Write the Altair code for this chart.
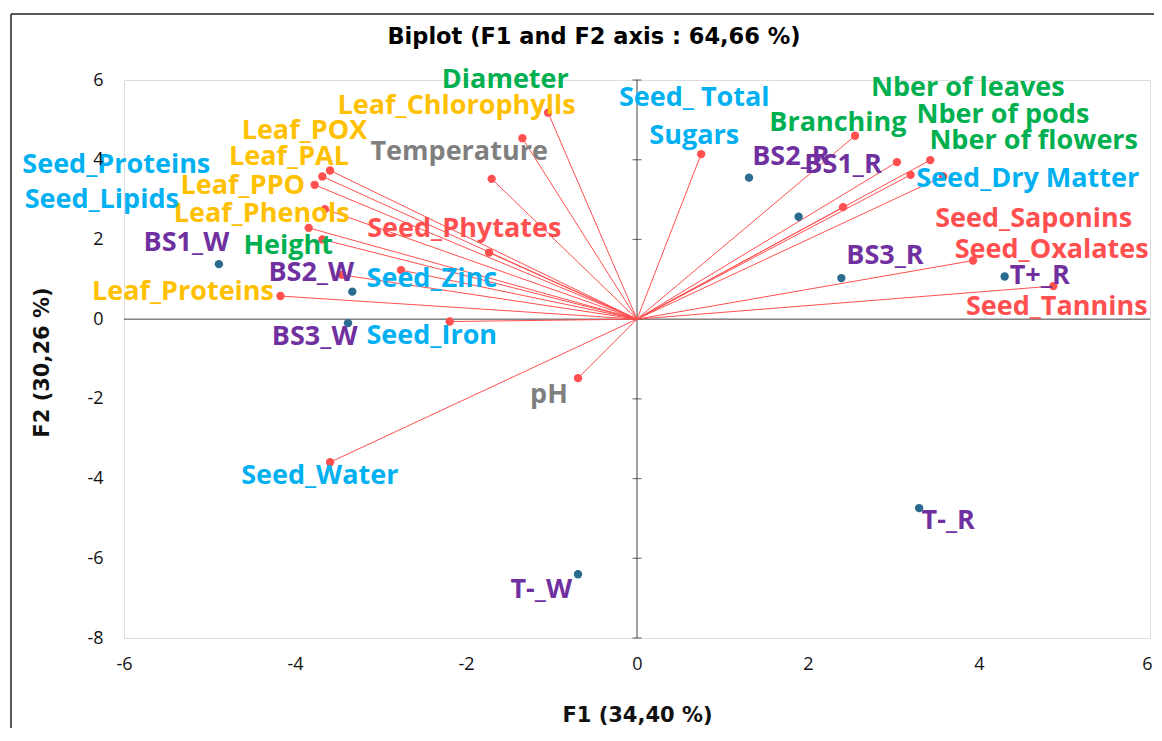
import altair as alt
import pandas as pd

# ---------------- data ----------------
var_names = [
    "Leaf_Chlorophylls", "Diameter", "Temperature", "Leaf_POX", "Leaf_PAL",
    "Leaf_PPO", "Leaf_Phenols", "Seed_Proteins", "Seed_Lipids", "Seed_Phytates",
    "Seed_Zinc", "Height", "Leaf_Proteins", "Seed_Iron", "pH", "Seed_Water",
    "Seed_ Total\nSugars", "Branching", "Nber of leaves", "Nber of pods",
    "Nber of flowers", "Seed_Dry Matter", "Seed_Saponins", "Seed_Oxalates",
    "Seed_Tannins",
]
var_f1 = [-1.04, -1.34, -1.70, -3.59, -3.68, -3.77, -3.65, -3.84, -3.68, -1.73,
          -2.76, -3.45, -4.17, -2.19, -0.69, -3.59,
          0.75, 2.55, 3.04, 3.43, 3.20, 3.58, 2.41, 3.93, 4.87]
var_f2 = [5.18, 4.54, 3.52, 3.73, 3.58, 3.37, 2.76, 2.29, 2.00, 1.67,
          1.23, 1.11, 0.58, -0.06, -1.48, -3.59,
          4.14, 4.60, 3.94, 3.99, 3.62, 3.58, 2.81, 1.47, 0.83]
var_group = ["leaf", "plant", "env", "leaf", "leaf", "leaf", "leaf", "seed", "seed", "anti",
             "seed", "plant", "leaf", "seed", "env", "seed",
             "seed", "plant", "plant", "plant", "plant", "seed", "anti", "anti", "anti"]
var_label_f1 = [-2.11, -1.54, -2.08, -3.89, -4.07, -4.61, -4.39, -6.09, -6.26, -2.02,
                -2.40, -4.08, -5.31, -2.40, -1.03, -3.71,
                0.67, 2.35, 3.87, 4.28, 4.64, 4.57, 4.64, 4.85, 4.91]
var_label_f2 = [5.35, 6.00, 4.19, 4.72, 4.07, 3.34, 2.64, 3.87, 2.99, 2.26,
                1.01, 1.84, 0.68, -0.42, -1.90, -3.93,
                5.55, 4.92, 5.80, 5.12, 4.47, 3.52, 2.51, 1.74, 0.31]

obs_names = ["BS1_W", "BS2_W", "BS3_W", "T-_W", "BS2_R", "BS1_R", "BS3_R", "T+_R", "T-_R"]
obs_f1 = [-4.89, -3.33, -3.38, -0.69, 1.31, 1.89, 2.39, 4.30, 3.30]
obs_f2 = [1.38, 0.69, -0.10, -6.40, 3.55, 2.57, 1.03, 1.07, -4.74]
obs_label_f1 = [-5.27, -3.81, -3.77, -1.12, 1.80, 2.41, 2.90, 4.71, 3.64]
obs_label_f2 = [1.91, 1.16, -0.45, -6.79, 4.07, 3.87, 1.59, 1.08, -5.07]

y_ticks = [-8, -6, -4, -2, 0, 2, 4, 6]
x_ticks = [-6, -4, -2, 0, 2, 4, 6]

group_domain = ["plant", "leaf", "seed", "anti", "env"]
group_colors = ["#00B050", "#FFC000", "#00B0F0", "#FF4F4F", "#7F7F7F"]

title_text = "Biplot (F1 and F2 axis : 64,66 %)"
x_title = "F1 (34,40 %)"
y_title = "F2 (30,26 %)"

# ---------------- tables ----------------
vars_df = pd.DataFrame({
    "name": var_names, "f1": var_f1, "f2": var_f2, "group": var_group,
    "lf1": var_label_f1, "lf2": var_label_f2,
})
vars_df["zero"] = 0.0
obs_df = pd.DataFrame({"name": obs_names, "f1": obs_f1, "f2": obs_f2,
                       "lf1": obs_label_f1, "lf2": obs_label_f2})
corners_df = pd.DataFrame({"f1": [-6, 6], "f2": [-8, 6]})

W, H = 1026, 558
LABEL_FONT = "Open Sans"
TICK_FONT = "Open Sans"
TITLE_FONT = "DejaVu Sans"

xs = alt.Scale(domain=[-6, 6], nice=False, zero=False)
ys = alt.Scale(domain=[-8, 6], nice=False, zero=False)

# the same axis definition is used in every layer so the shared axes merge cleanly
x_axis = alt.Axis(values=x_ticks, grid=False, domain=False, ticks=False, tickSize=0,
                  zindex=1, labelPadding=17, labelFont=TICK_FONT, labelFontSize=18,
                  labelExpr="datum.value + ''", labelFlush=False,
                  labelOffset={"condition": {"test": "datum.value >= 6", "value": -3},
                               "value": 0},
                  labelColor="#111111", title=x_title, titleFont=TITLE_FONT,
                  titleFontSize=21, titleFontWeight="bold", titleColor="#111111",
                  titleX=513, titleY=77, titleBaseline="middle", titleAlign="center")
y_axis = alt.Axis(values=y_ticks, grid=False, domain=False, ticks=False, tickSize=0,
                  zindex=1, labelPadding=21, labelFont=TICK_FONT, labelFontSize=18,
                  labelExpr="datum.value + ''", labelFlush=False,
                  labelColor="#111111", title=y_title, titleFont=TITLE_FONT,
                  titleFontSize=21, titleFontWeight="bold", titleColor="#111111",
                  titleX=-82, titleY=282, titleBaseline="middle", titleAlign="center",
                  titleAngle=270)


def X(field):
    return alt.X(field, scale=xs, axis=x_axis)


def Y(field):
    return alt.Y(field, scale=ys, axis=y_axis)


# invisible layer carrying the axes
axes_layer = alt.Chart(corners_df).mark_point(opacity=0).encode(x=X("f1:Q"), y=Y("f2:Q"))

# outer frame of the figure (left and top edges; the others fall outside the page)
one = pd.DataFrame({"a": [0]})
frame_left = alt.Chart(one).mark_rule(color="#222222", strokeWidth=1.5).encode(
    x=alt.value(-113), y=alt.value(-66), y2=alt.value(700))
frame_top = alt.Chart(one).mark_rule(color="#222222", strokeWidth=1.5).encode(
    x=alt.value(-113), x2=alt.value(1100), y=alt.value(-66))

# zero lines and tick marks on the vertical zero line
zero_df = pd.DataFrame({"v": [0]})
vline = alt.Chart(zero_df).mark_rule(color="#404040", strokeWidth=1).encode(x=X("v:Q"))
hline = alt.Chart(zero_df).mark_rule(color="#404040", strokeWidth=1).encode(y=Y("v:Q"))
ticks = alt.Chart(pd.DataFrame({"t": y_ticks, "z": [0] * len(y_ticks)})).mark_tick(
    orient="horizontal", size=9, thickness=1.2, color="#404040"
).encode(x=X("z:Q"), y=Y("t:Q"))

# variable vectors
vectors = alt.Chart(vars_df).mark_rule(color="#FF4F4F", strokeWidth=1).encode(
    x=X("zero:Q"), y=Y("zero:Q"), x2="f1:Q", y2="f2:Q")
var_pts = alt.Chart(vars_df).mark_circle(color="#FF4F4F", opacity=1, size=70).encode(
    x=X("f1:Q"), y=Y("f2:Q"))
obs_pts = alt.Chart(obs_df).mark_circle(color="#2A6B8F", opacity=1, size=70).encode(
    x=X("f1:Q"), y=Y("f2:Q"))

var_text = alt.Chart(vars_df).mark_text(
    font=LABEL_FONT, fontSize=27, fontWeight="bold", align="center", baseline="middle",
    lineBreak="\n", lineHeight=38
).encode(
    x=X("lf1:Q"), y=Y("lf2:Q"),
    text="name:N",
    color=alt.Color("group:N", scale=alt.Scale(domain=group_domain, range=group_colors),
                    legend=None),
)
obs_text = alt.Chart(obs_df).mark_text(
    font=LABEL_FONT, fontSize=27, fontWeight="bold", align="center", baseline="middle",
    color="#7030A0"
).encode(x=X("lf1:Q"), y=Y("lf2:Q"), text="name:N")

title = alt.Chart(pd.DataFrame({"t": [title_text]})).mark_text(
    font=TITLE_FONT, fontSize=22.5, fontWeight="bold", color="#000000",
    align="center", baseline="middle"
).encode(text="t:N", x=alt.value(470), y=alt.value(-43))

chart = alt.layer(
    axes_layer, frame_left, frame_top, vline, hline, ticks, vectors, var_pts, obs_pts,
    var_text, obs_text, title
).properties(
    width=W, height=H,
    autosize=alt.AutoSizeParams(type="none"),
    padding={"left": 116, "top": 72, "right": 4, "bottom": 90},
).configure_view(
    stroke="#BFBFBF", strokeWidth=2
).configure(background="white")

chart.save("out.html", embed_options={"renderer": "svg", "actions": False})
